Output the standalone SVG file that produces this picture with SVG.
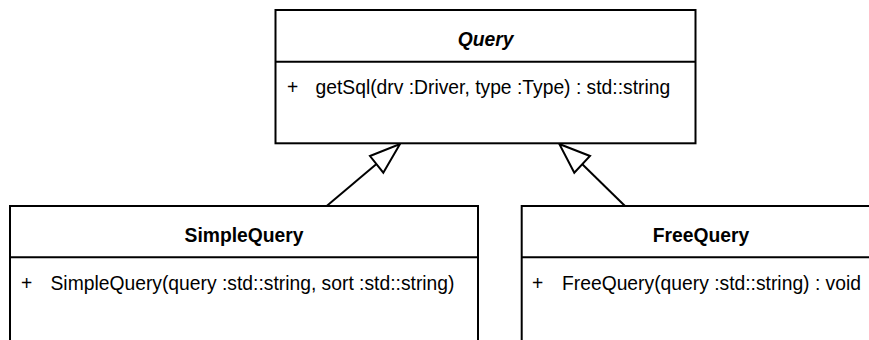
<svg xmlns="http://www.w3.org/2000/svg" width="869" height="340" viewBox="0 0 869 340">
<style>
  .box { fill: #ffffff; stroke: #000000; stroke-width: 2; }
  .div { stroke: #000000; stroke-width: 2; fill: none; }
  .title { font-family: "Liberation Sans", Arial, sans-serif; font-size: 19.3px; font-weight: bold; text-anchor: middle; fill: #000; }
  .abstract { font-style: italic; }
  .member { font-family: "Liberation Sans", Arial, sans-serif; font-size: 19.3px; fill: #000; }
  .edge { stroke: #000000; stroke-width: 2; fill: none; }
  .head { stroke: #000000; stroke-width: 2; fill: #ffffff; stroke-linejoin: miter; }
</style>
<rect width="869" height="340" fill="#ffffff"/>
<g id="connectors">
  <g id="e-simple-query">
    <line class="edge" x1="326.7" y1="206" x2="380" y2="161"/>
    <polygon class="head" points="400,144 383.3,172.7 370,156"/>
  </g>
  <g id="e-free-query">
    <line class="edge" x1="625" y1="206" x2="579" y2="161"/>
    <polygon class="head" points="559.3,144 590,156 574.3,172.7"/>
  </g>
</g>
<g id="node-query">
  <rect class="box" x="275.5" y="10" width="420" height="133.3"/>
  <line class="div" x1="275.5" y1="61.7" x2="695.5" y2="61.7"/>
  <text class="title abstract" x="485.6" y="45.5">Query</text>
  <text class="member" x="287" y="93.5">+</text>
  <text class="member" x="315.5" y="93.5">getSql(drv :Driver, type :Type) : std::string</text>
</g>
<g id="node-simplequery">
  <rect class="box" x="10" y="206" width="468" height="150"/>
  <line class="div" x1="10" y1="257.3" x2="478" y2="257.3"/>
  <text class="title" x="244" y="242">SimpleQuery</text>
  <text class="member" x="21" y="289.5">+</text>
  <text class="member" x="50.5" y="289.5">SimpleQuery(query :std::string, sort :std::string)</text>
</g>
<g id="node-freequery">
  <rect class="box" x="521.7" y="206" width="358.6" height="150"/>
  <line class="div" x1="521.7" y1="257.3" x2="880.3" y2="257.3"/>
  <text class="title" x="701" y="242">FreeQuery</text>
  <text class="member" x="532" y="289.5">+</text>
  <text class="member" x="562" y="289.5">FreeQuery(query :std::string) : void</text>
</g>
</svg>
